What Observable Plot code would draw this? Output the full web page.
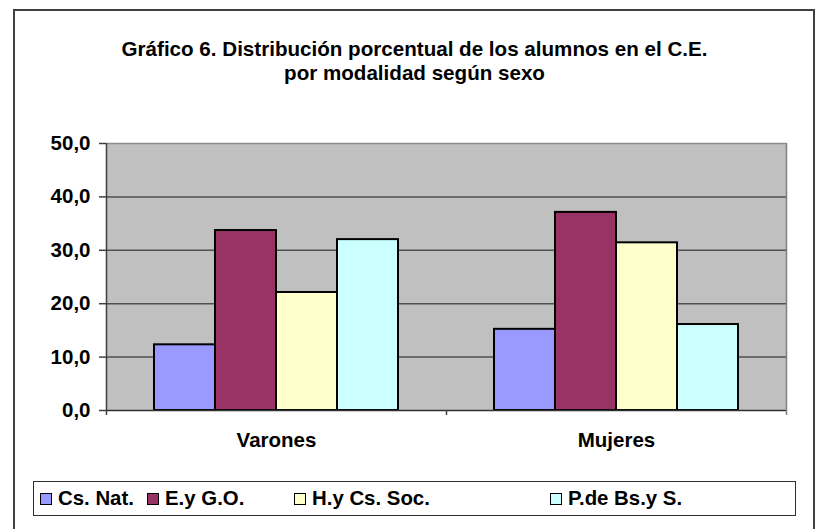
<!DOCTYPE html>
<html><head><meta charset="utf-8">
<script src="https://cdn.jsdelivr.net/npm/d3@7"></script>
<script src="https://cdn.jsdelivr.net/npm/@observablehq/plot@0.6"></script>
<style>
html,body{margin:0;padding:0;background:#fff;}
#wrap{position:relative;width:817px;height:529px;overflow:hidden;font-family:"Liberation Sans",Arial,sans-serif;font-weight:bold;color:#000;}
#frame{position:absolute;left:13px;top:9px;width:802px;height:540px;border:2px solid #404040;box-sizing:border-box;}
#title{position:absolute;left:14px;width:801px;top:37px;text-align:center;font-size:20.6px;line-height:24px;}
#legend{position:absolute;left:33px;top:481px;width:763px;height:35px;border:1.5px solid #303030;box-sizing:border-box;}
.item{position:absolute;top:0;height:100%;display:flex;align-items:center;font-size:20.4px;white-space:nowrap;}
.sw{width:10px;height:10px;border:1.5px solid #000;margin-right:6px;}
#chart{position:absolute;left:0;top:0;}
</style>
</head><body>
<div id="wrap">
  <div id="frame"></div>
  <div id="chart"></div>
  <div id="title">Gráfico 6. Distribución porcentual de los alumnos en el C.E.<br>por modalidad según sexo</div>
  <div id="legend"></div>
</div>
<script>
const sexos = ["Varones", "Mujeres"];
const modalidades = ["Cs. Nat.", "E.y G.O.", "H.y Cs. Soc.", "P.de Bs.y S."];
const varones = [12.3, 33.7, 22.1, 32.0];
const mujeres = [15.2, 37.1, 31.4, 16.1];
const yTicks = [0, 10, 20, 30, 40, 50];
const gridTicks = [10, 20, 30, 40];
const colores = ["#9999ff", "#993366", "#ffffcc", "#ccffff"];

// layout constants (not data)
const legendLeft = [6, 113, 260, 516];
const W = 817, H = 529, ML = 106, MR = 31, MT = 143, MB = 119;
const half = (W - ML - MR) / 4;

const data = [];
sexos.forEach((s, i) => {
  const vals = i === 0 ? varones : mujeres;
  modalidades.forEach((m, j) => data.push({sexo: s, modalidad: m, valor: vals[j]}));
});

const fmt = d => d.toFixed(1).replace(".", ",");

const chart = Plot.plot({
  width: W, height: H,
  marginLeft: ML, marginRight: MR, marginTop: MT, marginBottom: MB,
  style: {fontFamily: "'Liberation Sans', Arial, sans-serif", fontSize: "20.5px", fontWeight: "bold", color: "#000", background: "transparent", overflow: "visible"},
  fx: {domain: sexos, padding: 0},
  x: {domain: modalidades, paddingInner: 0, paddingOuter: 0.753, axis: null},
  y: {domain: [0, 50], axis: null},
  color: {domain: modalidades, range: colores},
  marks: [
    Plot.frame({fill: "#c0c0c0", stroke: null, shapeRendering: "crispEdges"}),
    Plot.gridY({ticks: gridTicks, stroke: "#505050", strokeOpacity: 1, strokeWidth: 1.5}),
    Plot.ruleY([50], {stroke: "#8c8c8c", strokeWidth: 1.5}),
    Plot.barY(data, {fx: "sexo", x: "modalidad", y: "valor", fill: "modalidad", stroke: "#000", strokeWidth: 2}),
    Plot.ruleY([0], {stroke: "#303030", strokeWidth: 1.5}),
    Plot.ruleX(["Varones"], {fx: d => d, x: null, y1: -0.95, y2: 50, dx: -half, stroke: "#404040", strokeWidth: 1.5}),
    Plot.ruleX(["Mujeres"], {fx: d => d, x: null, y1: -0.95, y2: 0, dx: -half, stroke: "#404040", strokeWidth: 1.5}),
    Plot.ruleX(["Mujeres"], {fx: d => d, x: null, y1: -0.95, y2: 50, dx: half, stroke: "#808080", strokeWidth: 1.5}),
    Plot.axisY({ticks: yTicks, tickSize: 7, tickPadding: 9, tickFormat: fmt, label: null, stroke: "#404040", strokeWidth: 1.5, fill: "#000", fontSize: 20.5}),
    Plot.axisFx({anchor: "bottom", tickSize: 0, tickPadding: 22, label: null, fontSize: 20.5, fill: "#000"})
  ]
});
document.getElementById("chart").appendChild(chart);

const legend = document.getElementById("legend");
modalidades.forEach((m, j) => {
  const it = document.createElement("div");
  it.className = "item";
  it.style.left = legendLeft[j] + "px";
  const sw = document.createElement("span");
  sw.className = "sw";
  sw.style.background = colores[j];
  const tx = document.createElement("span");
  tx.textContent = m;
  it.appendChild(sw); it.appendChild(tx);
  legend.appendChild(it);
});
</script>
</body></html>
